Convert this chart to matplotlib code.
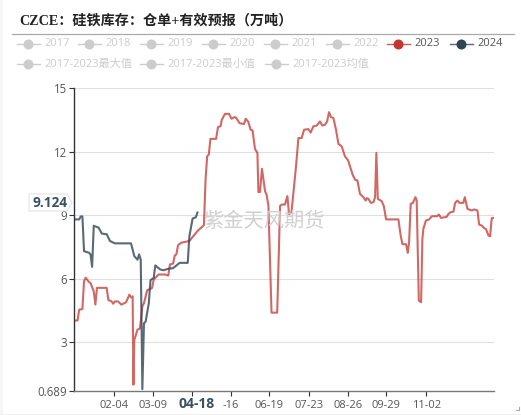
import matplotlib
matplotlib.use('Agg')
import matplotlib.pyplot as plt
from matplotlib.lines import Line2D
from matplotlib.patches import Polygon, Rectangle

plt.rcParams['font.family'] = ['Open Sans', 'Noto Sans CJK SC', 'DejaVu Sans']

title = 'CZCE：硅铁库存：仓单+有效预报（万吨）'
watermark = '紫金天风期货'

legend_row1 = ['2017', '2018', '2019', '2020', '2021', '2022', '2023', '2024']
legend_row2 = ['2017-2023最大值', '2017-2023最小值', '2017-2023均值']

y_ticks = [0.689, 3, 6, 9, 12, 15]
y_labels = ['0.689', '3', '6', '9', '12', '15']

x_ticks = [24.5, 48.4, 72.5, 96.7, 120.4, 145, 168.8, 192.6, 217.3]
x_labels = ['02-04', '03-09', '', '-16', '06-19', '07-23', '08-26', '09-29', '11-02']

# trading day index
days_2023 = [0, 2, 3, 5, 6, 7, 9, 10, 12, 13, 14, 20, 21, 23, 24, 25, 27, 29, 31, 32, 34, 35, 36,
             36.5, 37, 39, 40.5, 42, 43, 45, 47, 48, 49, 52, 56, 58, 59, 61, 62, 63, 64, 66, 71, 76, 80,
             81, 82, 83, 84, 87.5, 88.7, 90.3, 91, 93, 95.5, 97, 99, 100, 102, 104.7, 105.8, 107.4,
             108.8, 110, 111.5, 113, 113.6, 114.6, 115.8, 117.7, 118.7, 119.8, 121.7, 125.2,
             127, 128, 130, 131.5, 132.5, 134, 135, 136.8, 138.3, 140.3, 141.8, 144.4, 145.9, 147.5,
             149.6, 151.6, 153, 154.7, 156, 157.2, 158.4, 159.9, 161.5, 163, 165, 167, 169, 171.8,
             173.3, 174.7, 176.3, 178.4, 179.8, 180.5, 181.5, 183, 184.6, 185.6, 186.4, 187.3, 189.7,
             191, 192.4, 200, 201.4, 202.5, 204.7, 205.8, 206.6, 207.6, 208.9, 210.5, 211.3, 212.6,
             214, 214.8, 215.4, 217, 219, 220.6, 224, 225, 226.3, 229.8, 230.9, 232.3, 234, 235, 236.4,
             237.7, 240, 241, 242.6, 245.3, 246.7, 248.8, 249.8, 251.4, 252.9, 254, 255.6, 256.6,
             257.6, 258.7]
values_2023 = [4.03, 4.03, 4.54, 4.57, 5.88, 6.05, 5.85, 5.8, 5.4, 4.78, 5.57, 5.57, 5.0, 4.93, 4.82,
               4.93, 4.93, 4.78, 4.85, 4.9, 5.25, 5.12, 5.17,
               1.0, 3.1, 3.6, 3.65, 4.7, 4.85, 5.46, 5.52, 5.57, 5.96, 6.2, 6.2, 6.15, 6.67, 6.72, 7.1,
               7.15, 7.58, 7.7, 7.78, 8.25, 8.53,
               10.69, 11.78, 11.86, 12.6, 12.6, 13.16, 13.2, 13.5, 13.78, 13.78, 13.55, 13.63, 13.58,
               13.34, 13.3, 13.55, 13.4, 13.03, 13.0, 12.12, 11.94, 10.09, 10.09, 11.19, 10.14, 9.95,
               9.44, 4.4, 4.4, 9.44, 9.5, 9.5, 9.9, 9.05, 9.12, 9.9, 11.28, 12.64, 12.64,
               13.03, 13.06, 12.9, 13.19, 13.23, 13.42, 13.23, 13.27, 13.42, 13.86, 13.63, 13.58,
               13.03, 12.36, 12.25, 11.78, 11.58, 10.9, 10.67, 10.64, 10.0, 9.85, 9.69, 9.8, 9.77,
               9.58, 9.61, 9.85, 11.94, 9.77, 9.66, 9.43, 8.8, 8.8, 8.04, 7.63, 7.63, 7.22, 7.72,
               9.54, 9.57, 9.85, 9.69, 4.97, 4.89, 7.88, 8.35, 8.75, 8.8, 8.95, 8.95, 9.03, 8.87, 8.92,
               9.06, 9.14, 9.17, 9.58, 9.69, 9.58, 9.58, 9.85, 9.3, 9.22, 9.27, 9.22, 8.56, 8.51, 8.39,
               8.35, 8.04, 8.0, 8.86, 8.87]

days_2024 = [0, 3, 4, 5, 6, 9, 10, 11, 12, 15, 17, 20, 22, 25, 35, 37, 39, 40, 41, 42, 43, 44, 46,
             47, 49, 50, 53, 55, 58, 61, 65, 70, 71, 73, 75, 76]
values_2024 = [8.8, 8.8, 8.94, 8.94, 7.3, 7.23, 7.15, 6.56, 8.5, 8.41, 8.13, 8.1, 7.78, 7.67, 7.67,
               7.07, 6.9, 7.15, 6.9, 0.79, 3.9, 3.97, 4.85, 5.93, 6.04, 6.63, 6.44, 6.4, 6.47, 6.5,
               6.75, 6.75, 8.0, 8.84, 8.9, 9.124]

W, H = 521, 415
fig = plt.figure(figsize=(W / 100, H / 100), dpi=100, facecolor='white')
ax = fig.add_axes([74.3 / W, 1 - 391.3 / H, 419.7 / W, 303.3 / H])
ax.set_xlim(0, 259)
ax.set_ylim(0.689, 15)

ax.plot(days_2023, values_2023, color='#c23531', alpha=0.75, lw=1.5, solid_joinstyle='round')
ax.plot(days_2024, values_2024, color='#2f4554', alpha=0.8, lw=1.5, solid_joinstyle='round')

ax.set_yticks(y_ticks)
ax.set_yticklabels(y_labels, fontsize=8.3, color='#555555')
ax.set_xticks(x_ticks)
ax.set_xticklabels(x_labels, fontsize=8, color='#555555')
ax.tick_params(axis='y', length=3.5, width=0.8, color='#333333', pad=2)
ax.tick_params(axis='x', length=3.5, width=0.8, color='#333333', pad=3)
for i in y_ticks[1:]:
    ax.axhline(i, color='#e0e0e0', lw=0.8, zorder=0)
for s in ['top', 'right']:
    ax.spines[s].set_visible(False)
ax.spines['left'].set_color('#333333')
ax.spines['bottom'].set_color('#777777')
ax.spines['left'].set_linewidth(1)
ax.spines['bottom'].set_linewidth(1)

# pixel helpers for everything outside the plot
def fx(px):
    return px / W

def fy(py):
    return 1 - py / H

# page edge strips and the small resize mark
fig.add_artist(Rectangle((0, 0), fx(3), 1, transform=fig.transFigure, color='#f6f6f6', lw=0))
fig.add_artist(Rectangle((0, 0), 1, 1.5 / H, transform=fig.transFigure, color='#f0f0f0', lw=0))
fig.add_artist(Line2D([fx(516), fx(519), fx(519)], [fy(410), fy(410), fy(407)], color='#aaaaaa', lw=0.8))

fig.text(fx(19), fy(21), title, fontsize=10.15, fontweight='bold', color='#222222', va='center',
         family=['Liberation Serif', 'Noto Sans CJK SC'])
fig.add_artist(Line2D([fx(12), fx(514)], [fy(34.5), fy(34.5)], color='#aaaaaa', lw=0.9))

row1_x = [28, 89, 151, 213, 275, 337, 398, 461]
row2_x = [28, 151, 276]
active = {'2023': '#c23531', '2024': '#2f4554'}

def legend_item(cx, cy, label):
    c = active.get(label, '#cccccc')
    fig.add_artist(Line2D([fx(cx - 11.5), fx(cx + 11.5)], [fy(cy), fy(cy)], color=c, lw=1, alpha=0.8 if label in active else 1))
    fig.add_artist(Line2D([fx(cx)], [fy(cy)], marker='o', ms=7.2, color=c, mew=0))
    fig.text(fx(cx + 16), fy(cy), label, fontsize=8, va='center', color='#555555' if label in active else '#cccccc')

for cx, label in zip(row1_x, legend_row1):
    legend_item(cx, 44, label)
for cx, label in zip(row2_x, legend_row2):
    legend_item(cx, 64, label)

fig.text(fx(264), fy(222), watermark, fontsize=14.6, color='#d0d0d0', ha='center', va='center')

# hover labels
pointer = [(fx(29), fy(194)), (fx(67), fy(194)), (fx(72), fy(202.5)), (fx(67), fy(211)), (fx(29), fy(211))]
fig.add_artist(Polygon(pointer, closed=True, transform=fig.transFigure, facecolor='white', edgecolor='#e4e4e4', lw=0.8))
fig.text(fx(50.5), fy(202.5), '9.124', fontsize=9.8, fontweight='bold', color='#3b5063', ha='center', va='center')
fig.text(fx(197), fy(404), '04-18', fontsize=10, fontweight='bold', color='#3b5063', ha='center', va='center')

fig.savefig('out.png', dpi=100)
